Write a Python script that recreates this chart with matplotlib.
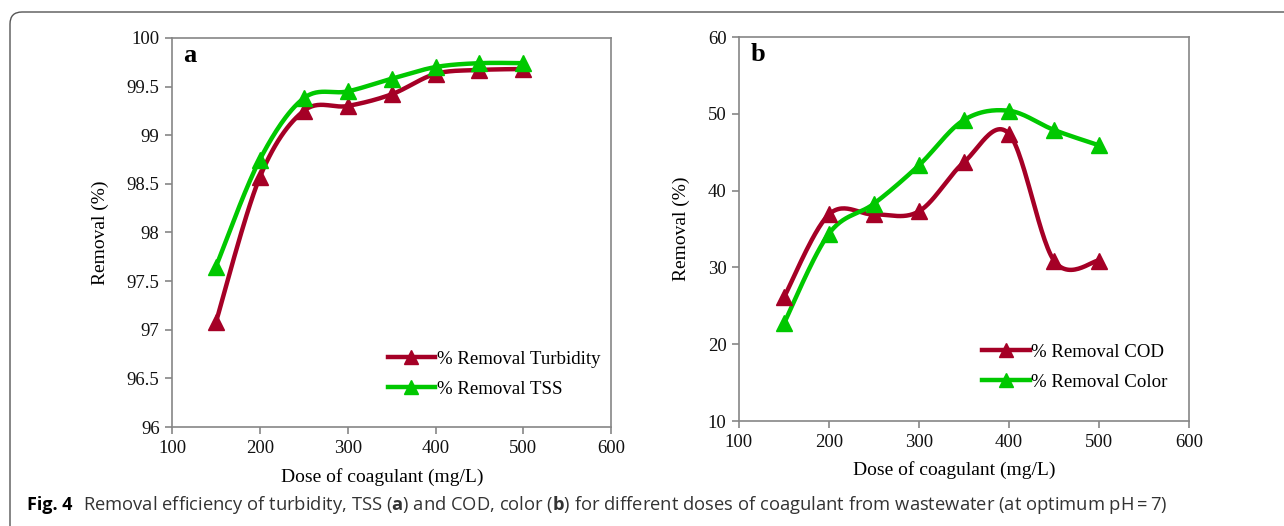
import matplotlib
matplotlib.use("Agg")
import matplotlib.pyplot as plt
import matplotlib.patches as mpatches
from matplotlib.transforms import IdentityTransform
import numpy as np

# data
dose = [150, 200, 250, 300, 350, 400, 450, 500]
turbidity = [97.08, 98.57, 99.25, 99.30, 99.42, 99.63, 99.67, 99.68]
tss = [97.65, 98.75, 99.38, 99.45, 99.58, 99.70, 99.74, 99.74]
cod = [26.1, 36.9, 36.9, 37.3, 43.7, 47.4, 30.9, 30.9]
color_rm = [22.7, 34.4, 38.3, 43.3, 49.2, 50.4, 47.9, 45.9]

RED = "#A50026"
GREEN = "#00C800"
GRAY = "#868686"
SERIF = "Liberation Serif"

plt.rcParams["mathtext.fontset"] = "custom"
plt.rcParams["mathtext.bf"] = "Open Sans:bold"
plt.rcParams["mathtext.rm"] = "Open Sans"


def smooth(x, y, n=30):
	# excel style smoothed line (bezier through the points)
	x = np.asarray(x, float)
	y = np.asarray(y, float)
	px = np.concatenate([[x[0]], x, [x[-1]]])
	py = np.concatenate([[y[0]], y, [y[-1]]])
	t = np.linspace(0, 1, n)[:, None]
	xs, ys = [], []
	for i in range(1, len(px) - 2):
		p0 = np.array([px[i], py[i]])
		p3 = np.array([px[i + 1], py[i + 1]])
		p1 = p0 + (np.array([px[i + 1], py[i + 1]]) - np.array([px[i - 1], py[i - 1]])) / 6
		p2 = p3 - (np.array([px[i + 2], py[i + 2]]) - np.array([px[i], py[i]])) / 6
		b = (1 - t) ** 3 * p0 + 3 * (1 - t) ** 2 * t * p1 + 3 * (1 - t) * t ** 2 * p2 + t ** 3 * p3
		xs.append(b[:, 0])
		ys.append(b[:, 1])
	return np.concatenate(xs), np.concatenate(ys)


def panel(ax, series, ylim, yticks, yfmt, letter, legloc):
	for y, c, lab in series:
		sx, sy = smooth(dose, y)
		ax.plot(sx, sy, color=c, lw=3.2, solid_capstyle="round", zorder=2)
		ax.plot(dose, y, ls="none", marker="^", ms=12, color=c, zorder=3)
		ax.plot([], [], color=c, lw=3.2, marker="^", ms=12, label=lab)
	ax.set_xlim(100, 600)
	ax.set_ylim(*ylim)
	ax.set_xticks([100, 200, 300, 400, 500, 600])
	ax.set_yticks(yticks)
	ax.set_yticklabels([yfmt(v) for v in yticks])
	for s in ax.spines.values():
		s.set_color(GRAY)
		s.set_linewidth(1.2)
	ax.tick_params(direction="out", length=5, width=1.2, color=GRAY,
		labelsize=13.5, labelcolor="#111111", pad=4)
	for lbl in ax.get_xticklabels() + ax.get_yticklabels():
		lbl.set_fontfamily(SERIF)
	ax.set_xlabel("Dose of coagulant (mg/L)", fontsize=14, family=SERIF, labelpad=6)
	ax.xaxis.set_label_coords(0.478, -0.105)
	ax.set_ylabel("Removal (%)", fontsize=14, family=SERIF, labelpad=13)
	ax.text(0.025, 0.985, letter, transform=ax.transAxes, fontsize=19,
		fontweight="bold", family=SERIF, va="top", ha="left")
	ax.legend(loc="lower left", bbox_to_anchor=legloc, frameon=False,
		prop={"family": SERIF, "size": 13.6}, handlelength=2.5, handletextpad=0.1,
		labelspacing=0.66, numpoints=1, markerscale=0.8)


fig = plt.figure(figsize=(12.84, 5.26), dpi=100)

ax1 = fig.add_axes([0.134, 0.188, 0.342, 0.740])
panel(ax1, [(turbidity, RED, "% Removal Turbidity"), (tss, GREEN, "% Removal TSS")],
	(96, 100), [96, 96.5, 97, 97.5, 98, 98.5, 99, 99.5, 100],
	lambda v: "%g" % v, "a", (0.452, 0.032))

ax2 = fig.add_axes([0.5755, 0.1996, 0.3505, 0.730])
panel(ax2, [(cod, RED, "% Removal COD"), (color_rm, GREEN, "% Removal Color")],
	(10, 60), [10, 20, 30, 40, 50, 60],
	lambda v: "%d" % v, "b", (0.503, 0.035))

# caption
fig.text(0.021, 0.030, "Fig. 4", fontsize=13, fontweight="bold", family="Open Sans")
fig.text(0.065, 0.030,
	"Removal efficiency of turbidity, TSS ($\\mathbf{a}$) and COD, color ($\\mathbf{b}$) "
	"for different doses of coagulant from wastewater (at optimum pH\u2009=\u20097)",
	fontsize=13.2, family="Open Sans", color="#333333")

# rounded frame around the figure
frame = mpatches.FancyBboxPatch((10, -60), 1400, 514 + 60, boxstyle="round,pad=0,rounding_size=12",
	transform=IdentityTransform(), fill=False, ec="#555555", lw=1.0)
fig.patches.append(frame)

fig.savefig("out.png", dpi=100)
